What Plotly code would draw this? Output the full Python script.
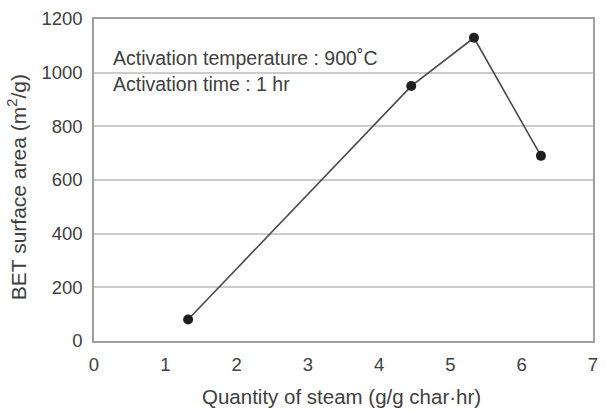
import plotly.graph_objects as go

steam = [1.32, 4.45, 5.33, 6.27]
bet_area = [80, 950, 1130, 690]
x_ticks = [0, 1, 2, 3, 4, 5, 6, 7]
y_ticks = [0, 200, 400, 600, 800, 1000, 1200]
notes = ["Activation temperature : 900˚C", "Activation time : 1 hr"]
x_title = "Quantity of steam (g/g char·hr)"
y_title = "BET surface area (m<sup>2</sup>/g)"

fig = go.Figure()
fig.add_trace(go.Scatter(
    x=steam, y=bet_area, mode="lines+markers",
    line=dict(color="#4a4a4a", width=1.6),
    marker=dict(color="#1e1e1e", size=10),
    showlegend=False,
))

FAM = "Liberation Sans, Arial, sans-serif"
fnt = dict(family=FAM, size=18.5, color="#404040")
afnt = dict(family=FAM, size=19.5, color="#404040")
xtfnt = dict(family=FAM, size=20.5, color="#404040")
ytfnt = dict(family=FAM, size=21, color="#404040")

fig.update_layout(
    width=606, height=412,
    margin=dict(l=94, r=8, t=14, b=71),
    paper_bgcolor="white", plot_bgcolor="white",
    font=fnt,
    xaxis=dict(
        range=[0, 7], tickvals=x_ticks, showgrid=False, zeroline=False,
        showline=True, linecolor="#a0a0a0", linewidth=1.5, mirror=True,
        ticks="", ticklabelstandoff=6, tickfont=fnt,
    ),
    yaxis=dict(
        range=[0, 1200], tickvals=y_ticks, showgrid=True, gridcolor="#cccccc",
        gridwidth=1.5, zeroline=False,
        showline=True, linecolor="#a0a0a0", linewidth=1.5, mirror=True,
        ticks="", ticklabelstandoff=6, tickfont=fnt,
    ),
)

for i, t in enumerate(notes):
    fig.add_annotation(
        text=t, xref="paper", yref="paper", x=0.034, y=(1 - (40 + 26 * i) / 327),
        xanchor="left", yanchor="middle", showarrow=False, font=afnt,
    )

fig.add_annotation(
    text=x_title, xref="paper", yref="paper", x=(344 - 94) / 504, y=(341 - 397) / 327,
    xanchor="center", yanchor="middle", showarrow=False, font=xtfnt,
)
fig.add_annotation(
    text=y_title, xref="paper", yref="paper", x=(17 - 94) / 504, y=(341 - 185) / 327,
    xanchor="center", yanchor="middle", showarrow=False, font=ytfnt, textangle=-90,
)

fig.write_html("out.html")
